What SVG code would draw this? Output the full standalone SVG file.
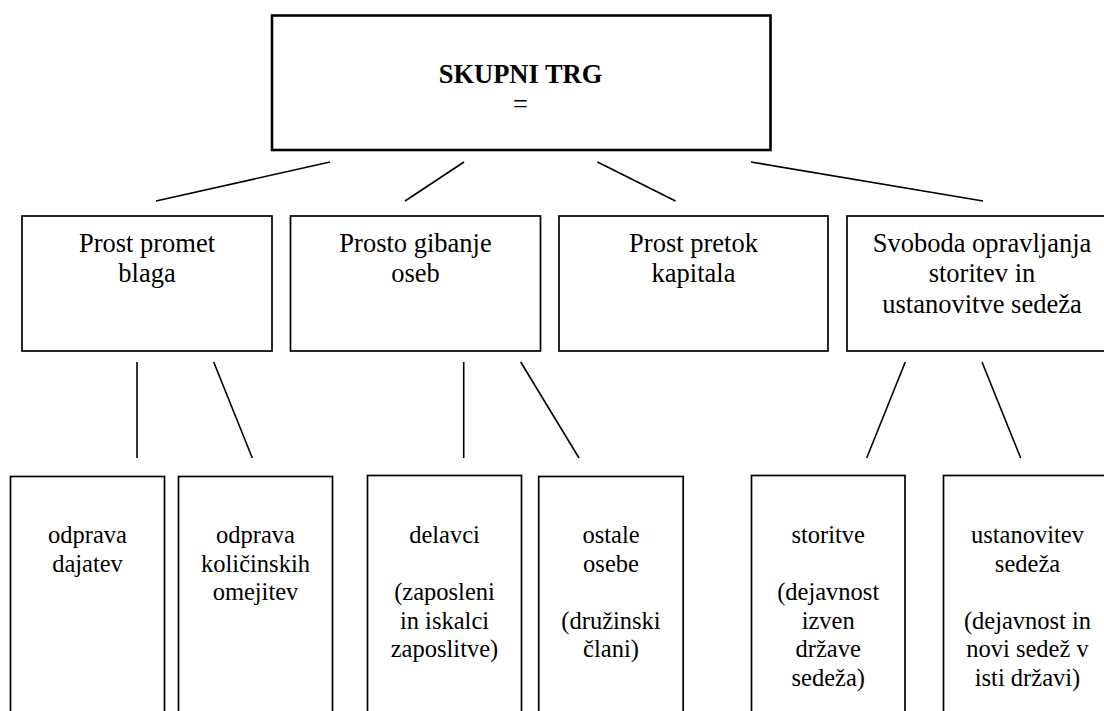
<svg xmlns="http://www.w3.org/2000/svg" width="1104" height="711" viewBox="0 0 1104 711">
<style>
.box{fill:#fff;stroke:#000;stroke-width:1.7}
.top{fill:#fff;stroke:#000;stroke-width:2.6}
text{font-family:'Liberation Serif','Tinos','DejaVu Serif',serif;fill:#000;text-anchor:middle}
.m{font-size:26.5px}
.b{font-size:24.5px}
.c{stroke:#000;stroke-width:1.6;fill:none}
</style>
<rect width="1104" height="711" fill="#fff"/>
<g id="connectors">
<line class="c" x1="330" y1="162" x2="156" y2="201"/>
<line class="c" x1="464" y1="162" x2="405" y2="201"/>
<line class="c" x1="597.5" y1="162" x2="675.5" y2="201"/>
<line class="c" x1="751" y1="162" x2="983" y2="201"/>
<line class="c" x1="137" y1="362" x2="137" y2="458"/>
<line class="c" x1="213.7" y1="362" x2="252.3" y2="458"/>
<line class="c" x1="463.7" y1="362" x2="463.7" y2="458"/>
<line class="c" x1="520.7" y1="362" x2="579" y2="458"/>
<line class="c" x1="905.3" y1="362" x2="866.7" y2="458"/>
<line class="c" x1="982" y1="362" x2="1020.7" y2="458"/>
</g>
<g id="skupni-trg">
<rect class="top" x="272" y="15.5" width="498.5" height="134.5"/>
<text class="m" x="520.5" y="83" font-weight="bold">SKUPNI TRG</text>
<text class="m" x="520.5" y="113">=</text>
</g>
<g id="blago">
<rect class="box" x="22" y="216" width="250" height="135"/>
<text class="m" x="147" y="251.5">Prost promet</text>
<text class="m" x="147" y="282">blaga</text>
</g>
<g id="osebe">
<rect class="box" x="290.5" y="216" width="250" height="135"/>
<text class="m" x="415.5" y="251.5">Prosto gibanje</text>
<text class="m" x="415.5" y="282">oseb</text>
</g>
<g id="kapital">
<rect class="box" x="559" y="216" width="269" height="135"/>
<text class="m" x="693.5" y="251.5">Prost pretok</text>
<text class="m" x="693.5" y="282">kapitala</text>
</g>
<g id="storitve-sedez">
<rect class="box" x="847" y="216" width="270" height="135"/>
<text class="m" x="982" y="251.5">Svoboda opravljanja</text>
<text class="m" x="982" y="282">storitev in</text>
<text class="m" x="982" y="312.5">ustanovitve sedeža</text>
</g>
<g id="dajatve">
<rect class="box" x="10.5" y="476.5" width="154" height="260"/>
<text class="b" x="87.5" y="543">odprava</text>
<text class="b" x="87.5" y="571.5">dajatev</text>
</g>
<g id="kolicinske">
<rect class="box" x="178.5" y="476.5" width="154" height="260"/>
<text class="b" x="255.5" y="543">odprava</text>
<text class="b" x="255.5" y="571.5">količinskih</text>
<text class="b" x="255.5" y="600">omejitev</text>
</g>
<g id="delavci">
<rect class="box" x="367.5" y="475.5" width="154" height="260"/>
<text class="b" x="444.5" y="543">delavci</text>
<text class="b" x="444.5" y="600">(zaposleni</text>
<text class="b" x="444.5" y="628.5">in iskalci</text>
<text class="b" x="444.5" y="657">zaposlitve)</text>
</g>
<g id="ostale-osebe">
<rect class="box" x="538.7" y="476.5" width="144.5" height="260"/>
<text class="b" x="611" y="543">ostale</text>
<text class="b" x="611" y="571.5">osebe</text>
<text class="b" x="611" y="628.5">(družinski</text>
<text class="b" x="611" y="657">člani)</text>
</g>
<g id="storitve">
<rect class="box" x="751.5" y="475.5" width="153.5" height="260"/>
<text class="b" x="828.2" y="543">storitve</text>
<text class="b" x="828.2" y="600">(dejavnost</text>
<text class="b" x="828.2" y="628.5">izven</text>
<text class="b" x="828.2" y="657">države</text>
<text class="b" x="828.2" y="685.5">sedeža)</text>
</g>
<g id="ustanovitev">
<rect class="box" x="943.5" y="475.5" width="168" height="260"/>
<text class="b" x="1027.5" y="543">ustanovitev</text>
<text class="b" x="1027.5" y="571.5">sedeža</text>
<text class="b" x="1027.5" y="628.5">(dejavnost in</text>
<text class="b" x="1027.5" y="657">novi sedež v</text>
<text class="b" x="1027.5" y="685.5">isti državi)</text>
</g>
</svg>
